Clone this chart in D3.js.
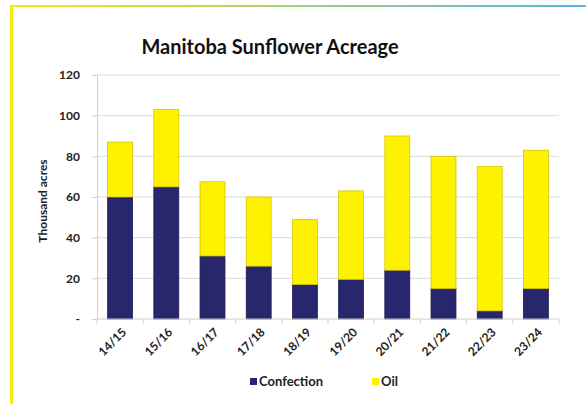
<!DOCTYPE html>
<html><head><meta charset="utf-8">
<script src="https://cdn.jsdelivr.net/npm/d3@7"></script>
<style>body{margin:0;background:#fff}svg{display:block}text{font-family:Lato,"Open Sans",sans-serif;font-weight:bold}</style>
</head><body>
<svg id="c" width="586" height="404"></svg>
<script>
const categories = ["14/15","15/16","16/17","17/18","18/19","19/20","20/21","21/22","22/23","23/24"];
const confection = [60, 65, 31, 26, 17, 19.5, 24, 15, 4, 15];
const oil = [27, 38, 36.5, 34, 32, 43.5, 66, 65, 71, 68];
const seriesNames = ["Confection", "Oil"];
const seriesColors = ["#28276e", "#fff200"];
const strokeColors = ["#1d1c55", "#d6c700"];
const yTicks = [0, 20, 40, 60, 80, 100, 120];

const svg = d3.select("#c");
const defs = svg.append("defs");
const grad = defs.append("linearGradient").attr("id","tg").attr("x1","0%").attr("x2","100%");
grad.append("stop").attr("offset","0%").attr("stop-color","#f5ea10");
grad.append("stop").attr("offset","100%").attr("stop-color","#55b3ea");
svg.append("rect").attr("x",10).attr("y",5).attr("width",576).attr("height",2).attr("fill","url(#tg)");
svg.append("rect").attr("x",10).attr("y",5).attr("width",3).attr("height",399).attr("fill","#f5ea10");

const m = {l:97, r:559, t:75, b:319};
const x = d3.scaleBand().domain(categories).range([m.l, m.r]).paddingInner(0.46).paddingOuter(0.23);
const y = d3.scaleLinear().domain([0,120]).range([m.b, m.t]);

svg.append("text").attr("x",270).attr("y",54).attr("text-anchor","middle").attr("font-size",20).attr("fill","#111").text("Manitoba Sunflower Acreage");

// gridlines
svg.append("g").selectAll("line").data(yTicks.slice(1)).join("line")
  .attr("x1",m.l).attr("x2",m.r).attr("y1",d=>y(d)).attr("y2",d=>y(d))
  .attr("stroke","#d9d9d9").attr("stroke-width",1);

// y axis
const ya = svg.append("g").attr("transform",`translate(${m.l},0)`)
  .call(d3.axisLeft(y).tickValues(yTicks).tickSize(5).tickPadding(12).tickFormat(d=>d===0?"-":d));
ya.select(".domain").attr("stroke","#d0d0d0");
ya.selectAll(".tick line").attr("stroke","#d0d0d0");
ya.selectAll("text").attr("font-size",12).attr("fill","#222").attr("font-family","Lato,'Open Sans',sans-serif").attr("font-weight","bold");

svg.append("text").attr("transform","translate(47,201) rotate(-90)").attr("text-anchor","middle")
  .attr("font-size",12).attr("fill","#222").text("Thousand acres");

// stacked bars
const rows = categories.map((c,i)=>({cat:c, Confection:confection[i], Oil:oil[i]}));
const stack = d3.stack().keys(seriesNames)(rows);
svg.append("g").selectAll("g").data(stack).join("g")
  .attr("fill",(d,i)=>seriesColors[i]).attr("stroke",(d,i)=>strokeColors[i]).attr("stroke-width",0.8)
  .selectAll("rect").data(d=>d).join("rect")
  .attr("x",d=>x(d.data.cat)).attr("width",x.bandwidth())
  .attr("y",d=>y(d[1])).attr("height",d=>y(d[0])-y(d[1]));

// x axis
const step = x.step();
const xa = svg.append("g").attr("transform",`translate(0,${m.b})`);
xa.append("line").attr("x1",m.l).attr("x2",m.r).attr("stroke","#d0d0d0");
xa.selectAll("line.t").data(d3.range(categories.length+1)).join("line").attr("class","t")
  .attr("x1",i=>m.l+i*step).attr("x2",i=>m.l+i*step).attr("y1",0).attr("y2",5).attr("stroke","#d0d0d0");
xa.selectAll("text").data(categories).join("text")
  .attr("transform",d=>`translate(${x(d)+x.bandwidth()/2+7},${14}) rotate(-45)`)
  .attr("text-anchor","end").attr("font-size",12).attr("fill","#222").text(d=>d);

// legend
const lg = svg.append("g");
const lx = [250, 372];
seriesNames.forEach((s,i)=>{
  lg.append("rect").attr("x",lx[i]).attr("y",378).attr("width",7).attr("height",7).attr("fill",seriesColors[i]);
  lg.append("text").attr("x",lx[i]+9).attr("y",386).attr("font-size",13).attr("fill","#222").text(s);
});
</script>
</body></html>
